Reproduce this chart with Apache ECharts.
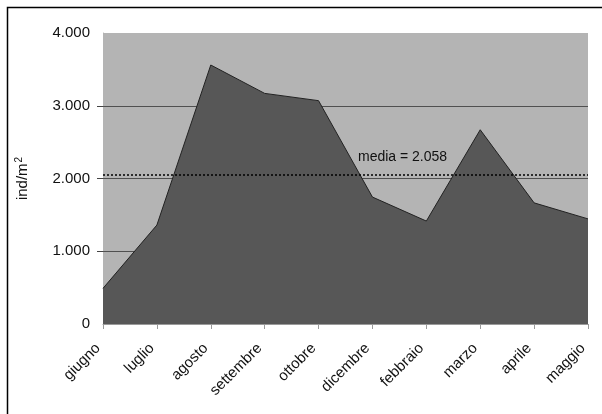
<!DOCTYPE html>
<html>
<head>
<meta charset="utf-8">
<script src="https://cdn.jsdelivr.net/npm/echarts@6/dist/echarts.min.js"></script>
<style>
  html, body { margin: 0; padding: 0; background: #fff; }
  #chart { width: 602px; height: 414px; }
</style>
</head>
<body>
<div id="chart"></div>
<script>
// Monthly density (individuals per square metre)
const months = ['giugno', 'luglio', 'agosto', 'settembre', 'ottobre', 'dicembre', 'febbraio', 'marzo', 'aprile', 'maggio'];
const density = [490, 1360, 3560, 3170, 3070, 1745, 1415, 2670, 1665, 1445];
const meanValue = 2058;
const yTicks = [0, 1000, 2000, 3000, 4000];
const gridValues = [1000, 2000, 3000];

const FONT = '"Liberation Sans", Arial, sans-serif';

// Italian thousands separator
function fmt(v) {
  return String(v).replace(/\B(?=(\d{3})+(?!\d))/g, '.');
}

const chart = echarts.init(document.getElementById('chart'), null, { renderer: 'canvas' });

chart.setOption({
  animation: false,
  backgroundColor: '#ffffff',
  grid: {
    left: 103, top: 33, right: 14, bottom: 90,
    show: true, backgroundColor: '#b4b4b4', borderWidth: 0
  },
  xAxis: {
    type: 'category',
    data: months,
    boundaryGap: false,
    axisLine: { show: true, lineStyle: { color: '#9a9a9a', width: 1 } },
    axisTick: { show: true, length: 5, lineStyle: { color: '#9a9a9a' } },
    axisLabel: {
      rotate: 45, color: '#111', fontSize: 15, fontFamily: FONT,
      margin: 17, padding: [0, 7, 0, 0]
    },
    splitLine: { show: false }
  },
  yAxis: {
    type: 'value',
    min: yTicks[0],
    max: yTicks[yTicks.length - 1],
    interval: 1000,
    name: '{b|ind/m}{s|2}',
    nameLocation: 'middle',
    nameGap: 71,
    nameRotate: 90,
    nameTextStyle: {
      color: '#111', fontSize: 15, fontFamily: FONT,
      rich: {
        b: { fontSize: 15, fontFamily: FONT, color: '#111' },
        s: { fontSize: 10, fontFamily: FONT, color: '#111', verticalAlign: 'top', padding: [0, 0, 8, 1] }
      }
    },
    axisLine: { show: true, lineStyle: { color: '#b4b4b4', width: 1 } },
    axisTick: { show: true, length: 6, lineStyle: { color: '#444' }, customValues: gridValues },
    axisLabel: {
      color: '#111', fontSize: 15, fontFamily: FONT, margin: 13,
      formatter: fmt
    },
    splitLine: { show: false }
  },
  series: [
    {
      // horizontal gridlines, kept behind the area
      type: 'line',
      data: density,
      symbol: 'none',
      silent: true,
      lineStyle: { opacity: 0 },
      z: 1,
      markLine: {
        silent: true,
        symbol: ['none', 'none'],
        lineStyle: { type: 'solid', color: '#505050', width: 1 },
        label: { show: false },
        data: gridValues.map(v => ({ yAxis: v })),
        z: 1
      }
    },
    {
      type: 'line',
      data: density,
      symbol: 'none',
      lineStyle: { color: '#222', width: 1 },
      areaStyle: { color: '#575757', opacity: 1 },
      z: 2,
      markLine: {
        silent: true,
        symbol: ['none', 'none'],
        lineStyle: { type: [2, 2], color: '#000', width: 1.5 },
        label: { show: false },
        data: [{ yAxis: meanValue }],
        z: 5
      }
    }
  ]
});

// Mean label and outer frame
const yMean = chart.convertToPixel({ yAxisIndex: 0 }, meanValue);
chart.setOption({
  graphic: [
    {
      type: 'text',
      left: 358,
      top: yMean - 24,
      style: {
        text: 'media = ' + fmt(meanValue),
        fill: '#111',
        font: '14px ' + FONT
      },
      z: 10
    },
    {
      type: 'polyline',
      shape: { points: [[7.5, 414], [7.5, 7.5], [602, 7.5]] },
      style: { stroke: '#000', lineWidth: 1.5, fill: null },
      z: 10
    }
  ]
});
</script>
</body>
</html>
